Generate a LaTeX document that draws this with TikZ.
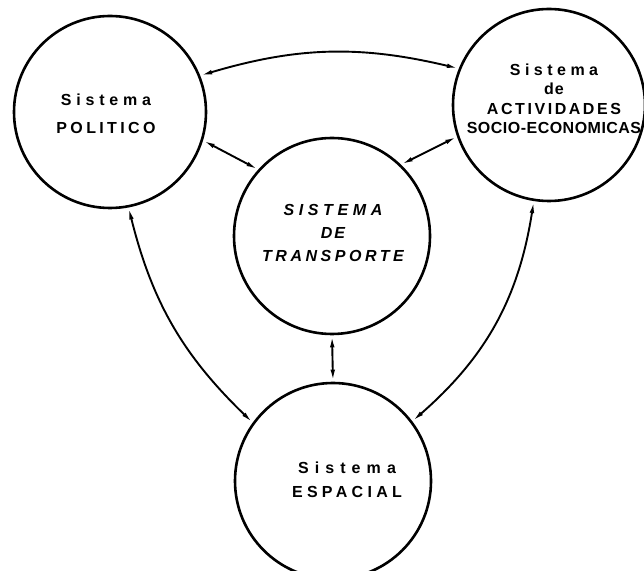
\documentclass[tikz,border=0pt]{standalone}
\usepackage{fontspec}
\setmainfont{Liberation Sans}
\usetikzlibrary{arrows.meta}
\newcommand\ls[2]{{\addfontfeature{LetterSpace=#1}#2}}
\begin{document}
\begin{tikzpicture}[x=1pt,y=1pt,
  sys/.style={circle, draw, line width=2.6pt, inner sep=0pt},
  lbl/.style={align=center, font=\bfseries\fontsize{16}{#1}\selectfont, inner sep=0pt},
  lbli/.style={align=center, font=\bfseries\itshape\fontsize{16}{#1}\selectfont, inner sep=0pt},
  link/.style={line width=1.9pt, {Latex[length=12pt,width=4.5pt]}-{Latex[length=12pt,width=4.5pt]}}]
\useasboundingbox (0,0) rectangle (644,570);
\node[sys, minimum size=192pt] (pol) at (110,458) {};
\node[sys, minimum size=192pt] (act) at (549,465) {};
\node[sys, minimum size=196pt] (trans) at (332,334) {};
\node[sys, minimum size=196pt] (esp) at (333,89) {};
\node[lbl=28] (polt) at (106,456) {\ls{30}{Sistema}\\\ls{21}{POLITICO}};
\node[lbl=19.5] (actt) at (554,471) {\ls{28}{Sistema}\\\ls{6}{de}\\\ls{16}{ACTIVIDADES}\\\ls{3}{SOCIO-ECONOMICAS}};
\node[lbli=23] (trant) at (333,337) {\ls{29}{SISTEMA}\\\ls{12}{DE}\\\ls{22}{TRANSPORTE}};
\node[lbl=24] (espt) at (347,90) {\ls{38}{Sistema}\\\ls{27}{ESPACIAL}};
\draw[link] (pol.22) to[bend left=15] (act.158);
\draw[link] (pol.-17) -- (trans.138);
\draw[link] (act.199) -- (trans.46);
\draw[link] (trans.south) -- (esp.north);
\draw[link] (pol.-79) to[bend right=16] (esp.144);
\draw[link] (act.-99) to[bend left=20] (esp.37);
\end{tikzpicture}
\end{document}
